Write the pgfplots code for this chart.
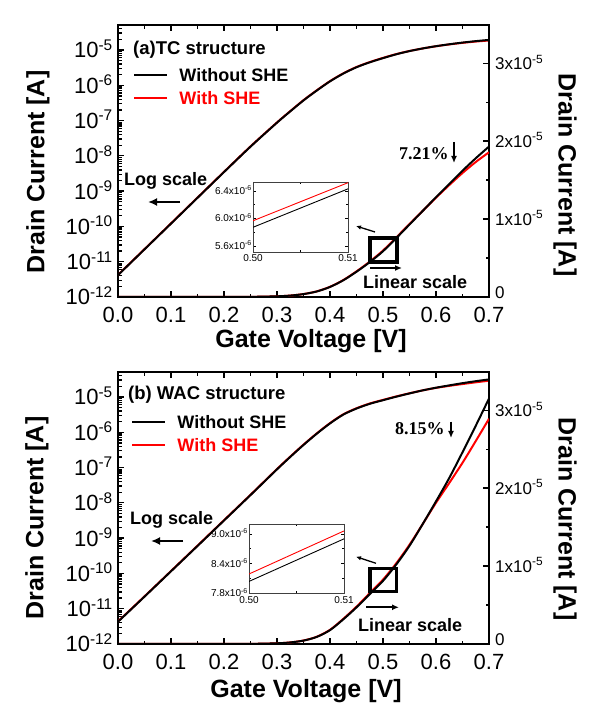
\documentclass[border=0pt]{standalone}
\usepackage{pgfplots}
\pgfplotsset{compat=1.18}
\usepackage{pgfplotstable}
\usepackage{fontspec}
\setmainfont{Liberation Sans}
\newfontfamily\timesfont{Liberation Serif}
\usetikzlibrary{arrows.meta}
\newcommand\fs[1]{\fontsize{#1}{#1}\selectfont}

% (a) TC structure
\pgfplotstableread{
V I
0.000 4.17e-12
0.050 2.24e-11
0.100 1.20e-10
0.150 6.46e-10
0.200 3.47e-9
0.250 1.82e-8
0.300 8.71e-8
0.325 1.82e-7
0.350 3.72e-7
0.375 7.08e-7
0.400 1.29e-6
0.425 2.14e-6
0.450 3.24e-6
0.475 4.47e-6
0.500 5.87e-6
0.525 7.55e-6
0.550 9.30e-6
0.575 1.105e-5
0.600 1.28e-5
0.625 1.45e-5
0.650 1.62e-5
0.675 1.78e-5
0.700 1.93e-5
}\topblack
\pgfplotstableread{
V I
0.000 4.23e-12
0.050 2.27e-11
0.100 1.22e-10
0.150 6.56e-10
0.200 3.52e-9
0.250 1.85e-8
0.300 8.84e-8
0.325 1.85e-7
0.350 3.78e-7
0.375 7.19e-7
0.400 1.31e-6
0.425 2.17e-6
0.450 3.29e-6
0.475 4.54e-6
0.500 5.96e-6
0.525 7.64e-6
0.550 9.36e-6
0.575 1.105e-5
0.600 1.274e-5
0.625 1.436e-5
0.650 1.591e-5
0.675 1.732e-5
0.700 1.857e-5
}\topred
% (b) WAC structure
\pgfplotstableread{
V I
0.000 4.27e-12
0.050 2.20e-11
0.100 1.15e-10
0.150 6.00e-10
0.200 3.16e-9
0.250 1.66e-8
0.300 8.90e-8
0.325 2.00e-7
0.350 4.37e-7
0.375 9.10e-7
0.400 1.78e-6
0.425 3.16e-6
0.450 4.70e-6
0.475 6.40e-6
0.500 8.10e-6
0.525 1.02e-5
0.550 1.26e-5
0.575 1.54e-5
0.600 1.83e-5
0.625 2.13e-5
0.650 2.46e-5
0.675 2.80e-5
0.700 3.15e-5
}\botblack
\pgfplotstableread{
V I
0.000 4.36e-12
0.050 2.24e-11
0.100 1.17e-10
0.150 6.12e-10
0.200 3.22e-9
0.250 1.69e-8
0.300 9.08e-8
0.325 2.04e-7
0.350 4.46e-7
0.375 9.28e-7
0.400 1.82e-6
0.425 3.22e-6
0.450 4.79e-6
0.475 6.53e-6
0.500 8.26e-6
0.525 1.035e-5
0.550 1.273e-5
0.575 1.54e-5
0.600 1.812e-5
0.625 2.066e-5
0.650 2.325e-5
0.675 2.604e-5
0.700 2.89e-5
}\botred

\pgfplotsset{
  mainlog/.style={
    scale only axis, width=371pt, height=272pt, anchor=south west,
    xmin=0, xmax=0.7, ymin=1e-12, ymax=5.1e-5,
    xtick={0,0.1,0.2,0.3,0.4,0.5,0.6,0.7},
    xticklabels={0.0,0.1,0.2,0.3,0.4,0.5,0.6,0.7},
    minor xtick={0.05,0.15,0.25,0.35,0.45,0.55,0.65},
    ytick={1e-12,1e-11,1e-10,1e-9,1e-8,1e-7,1e-6,1e-5},
    yticklabels={10\textsuperscript{-12},10\textsuperscript{-11},10\textsuperscript{-10},10\textsuperscript{-9},10\textsuperscript{-8},10\textsuperscript{-7},10\textsuperscript{-6},10\textsuperscript{-5}},
    minor ytick={2e-12,3e-12,4e-12,5e-12,6e-12,7e-12,8e-12,9e-12,
      2e-11,3e-11,4e-11,5e-11,6e-11,7e-11,8e-11,9e-11,
      2e-10,3e-10,4e-10,5e-10,6e-10,7e-10,8e-10,9e-10,
      2e-9,3e-9,4e-9,5e-9,6e-9,7e-9,8e-9,9e-9,
      2e-8,3e-8,4e-8,5e-8,6e-8,7e-8,8e-8,9e-8,
      2e-7,3e-7,4e-7,5e-7,6e-7,7e-7,8e-7,9e-7,
      2e-6,3e-6,4e-6,5e-6,6e-6,7e-6,8e-6,9e-6,
      2e-5,3e-5,4e-5,5e-5},
    xtick pos=both, ytick pos=left, tick align=inside,
    major tick length=6pt, minor tick length=3.5pt,
    every tick/.append style={line width=1.3pt, black},
    axis line style={line width=2.3pt},
    xticklabel style={font=\fs{22}, anchor=base, yshift=-25pt, inner sep=0pt},
    yticklabel style={font=\fs{22}, anchor=base east, xshift=-5pt, yshift=-7.9pt, inner sep=0pt},
    reverse legend,
    legend cell align=left,
    legend image code/.code={\draw[#1, line width=2.3pt] (0pt,0pt) -- (33pt,0pt);},
    legend style={draw=none, fill=none, inner sep=0pt, row sep=10pt, column sep=11pt,
      font=\fs{18}\bfseries, anchor=north west,
      nodes={inner sep=0pt, text height=13pt, text depth=0pt}},
  },
  mainlin/.style={
    scale only axis, width=371pt, height=272pt, anchor=south west,
    xmin=0, xmax=0.7, ymin=0, ymax=3.49e-5,
    hide x axis, axis y line*=right,
    y axis line style={-, line width=2.3pt},
    ytick={0,1e-5,2e-5,3e-5},
    yticklabels={\raisebox{5pt}{0},1x10\textsuperscript{-5},2x10\textsuperscript{-5},3x10\textsuperscript{-5}},
    minor ytick={0.5e-5,1.5e-5,2.5e-5},
    scaled y ticks=false, tick align=inside,
    major tick length=6pt, minor tick length=3.5pt,
    every tick/.append style={line width=1.3pt, black},
    yticklabel style={font=\fs{17}, anchor=base west, xshift=6pt, yshift=-6.1pt, inner sep=0pt},
  },
  inset/.style={
    scale only axis, width=95pt, anchor=south west,
    xmin=0.50, xmax=0.51,
    xtick={0.50,0.51}, xticklabels={0.50,0.51}, minor xtick={0.505},
    scaled x ticks=false, scaled y ticks=false,
    tick pos=both, tick align=inside,
    major tick length=3pt, minor tick length=2pt,
    every tick/.append style={line width=0.6pt, black},
    axis line style={line width=0.9pt, black!75},
    xticklabel style={font=\fs{10}, anchor=north, yshift=-2pt, inner sep=0pt},
    yticklabel style={font=\fs{10}, anchor=base east, xshift=-1pt, yshift=-3.6pt, inner sep=0pt},
  },
  curve/.style={line width=2pt, smooth, tension=0.5},
}

\begin{document}
\begin{tikzpicture}[x=1pt,y=1pt]
\path[use as bounding box] (0,0) rectangle (602,713);

% ===== Panel (a) =====
\begin{axis}[ymode=log, mainlog, at={(118pt,416pt)},
  legend style={at={(rel axis cs:0.0404,0.840)}}]
\addplot[curve, red] table[x=V,y=I]{\topred};
\addlegendentry{\textcolor{red}{With SHE}}
\addplot[curve, black] table[x=V,y=I]{\topblack};
\addlegendentry{Without SHE}
\end{axis}
\begin{axis}[mainlin, at={(118pt,416pt)}]
\addplot[curve, red] table[x=V,y=I]{\topred};
\addplot[curve, black] table[x=V,y=I]{\topblack};
\end{axis}
\begin{axis}[inset, at={(253pt,461pt)}, height=70pt,
  ymin=5.51e-6, ymax=6.53e-6,
  ytick={5.6e-6,6.0e-6,6.4e-6}, minor ytick={5.8e-6,6.2e-6},
  yticklabels={5.6x10\textsuperscript{-6},6.0x10\textsuperscript{-6},6.4x10\textsuperscript{-6}}]
\addplot[red, line width=0.9pt] coordinates {(0.50,5.965e-6) (0.51,6.52e-6)};
\addplot[black, line width=0.9pt] coordinates {(0.50,5.87e-6) (0.51,6.43e-6)};
\end{axis}

\node[font=\fs{25}\bfseries, anchor=base] at (311,365) {Gate Voltage [V]};
\node[font=\fs{25}\bfseries, rotate=90] at (38,541) {Drain Current [A]};
\node[font=\fs{25}\bfseries, rotate=-90] at (565,538) {Drain Current [A]};
\node[font=\fs{18.5}\bfseries, anchor=base west, inner sep=0pt] at (133,658.4) {(a)TC structure};
\node[font=\fs{18}\bfseries, anchor=base west, inner sep=0pt] at (124,527.6) {Log scale};
\draw[line width=2.6pt, -{Latex[length=9pt,width=8pt]}] (180,511) -- (148,511);
\node[font=\fs{18}\bfseries, anchor=base west, inner sep=0pt] at (363,424.6) {Linear scale};
\draw[line width=1.8pt, -{Latex[length=7pt,width=6pt]}] (370,445) -- (402,445);
\draw[line width=3.5pt] (370,451) rectangle (397,475);
\draw[line width=1.3pt, -{Latex[length=5pt,width=4.5pt]}] (375,481) -- (356,487);
\node[font=\timesfont\fs{18}\bfseries, anchor=base west, inner sep=0pt] at (399,553) {7.21\%};
\draw[line width=2pt, -{Latex[length=7pt,width=6pt]}] (454,571) -- (454,550);

% ===== Panel (b) =====
\begin{axis}[ymode=log, mainlog, at={(118pt,69pt)},
  legend style={at={(rel axis cs:0.035,0.840)}}]
\addplot[curve, red] table[x=V,y=I]{\botred};
\addlegendentry{\textcolor{red}{With SHE}}
\addplot[curve, black] table[x=V,y=I]{\botblack};
\addlegendentry{Without SHE}
\end{axis}
\begin{axis}[mainlin, at={(118pt,69pt)}]
\addplot[curve, red] table[x=V,y=I]{\botred};
\addplot[curve, black] table[x=V,y=I]{\botblack};
\end{axis}
\begin{axis}[inset, at={(249pt,119.7pt)}, height=69.3pt,
  ymin=7.8e-6, ymax=9.2e-6,
  ytick={7.8e-6,8.4e-6,9.0e-6}, minor ytick={8.1e-6,8.7e-6},
  yticklabels={7.8x10\textsuperscript{-6},8.4x10\textsuperscript{-6},9.0x10\textsuperscript{-6}},
  xticklabel style={yshift=-1pt}]
\addplot[red, line width=0.9pt] coordinates {(0.50,8.19e-6) (0.51,9.06e-6)};
\addplot[black, line width=0.9pt] coordinates {(0.50,8.04e-6) (0.51,8.90e-6)};
\end{axis}

\node[font=\fs{25}\bfseries, anchor=base] at (306,16) {Gate Voltage [V]};
\node[font=\fs{25}\bfseries, rotate=90] at (37,195) {Drain Current [A]};
\node[font=\fs{25}\bfseries, rotate=-90] at (565,194) {Drain Current [A]};
\node[font=\fs{18.5}\bfseries, anchor=base west, inner sep=0pt] at (128,313.4) {(b) WAC structure};
\node[font=\fs{18}\bfseries, anchor=base west, inner sep=0pt] at (130,188.6) {Log scale};
\draw[line width=2.6pt, -{Latex[length=9pt,width=8pt]}] (183,172) -- (151,172);
\node[font=\fs{18}\bfseries, anchor=base west, inner sep=0pt] at (358,81.6) {Linear scale};
\draw[line width=1.8pt, -{Latex[length=7pt,width=6pt]}] (366,105.7) -- (399,105.7);
\draw[line width=3.5pt] (370,121.3) rectangle (396.7,144.7);
\draw[line width=1.3pt, -{Latex[length=5pt,width=4.5pt]}] (376,149.7) -- (356,156.3);
\node[font=\timesfont\fs{18}\bfseries, anchor=base west, inner sep=0pt] at (395,278) {8.15\%};
\draw[line width=2pt, -{Latex[length=7pt,width=6pt]}] (451,291.3) -- (451,275);
\end{tikzpicture}
\end{document}
